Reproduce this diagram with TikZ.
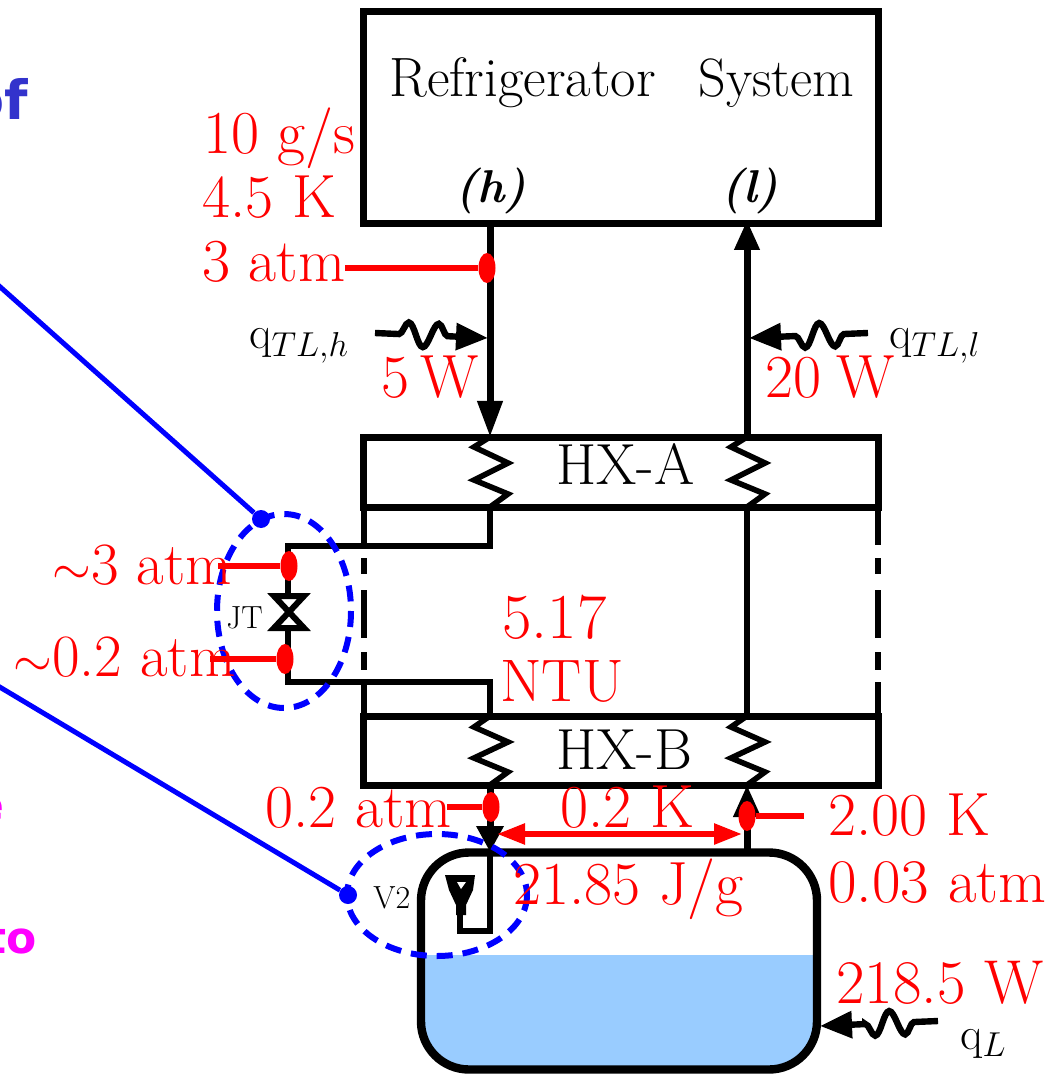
\documentclass[tikz,border=0pt]{standalone}
\usepackage{amsmath,amssymb}
\usepackage{fontspec}
\usepackage{xcolor}
\usetikzlibrary{arrows.meta,decorations.pathmorphing,shapes.geometric}
\newfontfamily\slidefont{DejaVu Sans}
\definecolor{waterblue}{HTML}{99CCFF}
\definecolor{slideblue}{HTML}{3333CC}
\definecolor{slidepink}{HTML}{FF00FF}
\newcommand{\redsize}{\fontsize{30.5}{32}\selectfont}
\newcommand{\blksize}{\fontsize{27.7}{29}\selectfont}
\begin{document}
\begin{tikzpicture}[x=0.5pt,y=-0.5pt,
  box/.style={draw=black,line width=3.5pt,inner sep=0pt,minimum width=257.5pt},
  pipe/.style={draw=black,line width=3.5pt},
  thinpipe/.style={draw=black,line width=2.7pt},
  coil/.style={draw=black,line width=2.8pt,line join=miter},
  redtxt/.style={text=red,anchor=base west,inner sep=0pt,font=\redsize},
  blktxt/.style={text=black,anchor=base west,inner sep=0pt,font=\blksize},
  redline/.style={draw=red,line width=2.8pt},
  reddot/.style={fill=red,ellipse,inner sep=0pt,minimum width=8.5pt,minimum height=15pt},
  bluedot/.style={fill=blue,circle,inner sep=0pt,minimum size=9pt},
  blueline/.style={draw=blue,line width=2.5pt},
  blueloop/.style={draw=blue,line width=3pt,dash pattern=on 8pt off 5pt},
  qarrow/.style={draw=black,line width=3.2pt,-{Triangle[length=16pt,width=13pt]},
    decorate,decoration={snake,segment length=15pt,amplitude=6pt,pre length=12pt,post length=17pt}}]
\useasboundingbox (0,0) rectangle (1050,1074);
% water and tank
\fill[waterblue] (421,955) -- (817,955) [rounded corners=24pt] -- (817,1069) -- (421,1069) [sharp corners] -- cycle;
\node[draw=black,line width=4.2pt,rounded corners=24pt,inner sep=0pt,minimum width=198pt,minimum height=108.5pt] (tank) at (619,961) {};
% boxes
\node[box,minimum height=106pt] (fridge) at (621,118) {};
\node[box,minimum height=35pt] (hxa) at (621,472) {};
\node[box,minimum height=34.5pt] (hxb) at (621,750.5) {};
% points on the pipes
\coordinate (ha) at (490,224);
\coordinate (hb) at (490,437);
\coordinate (hc) at (490,507);
\coordinate (hd) at (490,546);
\coordinate (he) at (288,546);
\coordinate (hf) at (288,682);
\coordinate (hg) at (490,682);
\coordinate (hi) at (490,716);
\coordinate (hj) at (490,785);
\coordinate (hk) at (490,852);
\coordinate (hl) at (490,931);
\coordinate (hm) at (460,931);
\coordinate (hn) at (460,905);
\coordinate (la) at (747,220);
\coordinate (lb) at (747,437);
\coordinate (lc) at (747,507);
\coordinate (ld) at (747,716);
\coordinate (le) at (747,785);
\coordinate (lf) at (747,852);
\draw[pipe,-{Triangle[length=18pt,width=12pt]}] (ha) -- (hb);
\draw[pipe,-{Triangle[length=15pt,width=12pt]}] (lb) -- (la);
\draw[pipe,-{Triangle[length=16pt,width=13pt]}] (lf) -- (le);
\draw[pipe,-{Triangle[length=13pt,width=13pt]}] (hj) -- (hk);
\draw[thinpipe] (hc) -- (hd) -- (he) -- (hf) -- (hg) -- (hi);
\draw[thinpipe] (lc) -- (ld);
\draw[thinpipe] (hk) -- (hl) -- (hm) -- (hn);
% side walls between the exchangers
\draw[thinpipe] (364,507) -- (364,545);
\draw[thinpipe] (364,558) -- (364,574);
\draw[thinpipe] (364,590) -- (364,638);
\draw[thinpipe] (364,652) -- (364,670);
\draw[thinpipe] (364,682) -- (364,716);
\draw[thinpipe] (878,507) -- (878,545);
\draw[thinpipe] (878,558) -- (878,574);
\draw[thinpipe] (878,590) -- (878,638);
\draw[thinpipe] (878,652) -- (878,670);
\draw[thinpipe] (878,682) -- (878,716);
% coils
\draw[coil] (490,437) -- (474,447) -- (508,463) -- (474,480) -- (508,494) -- (490,507);
\draw[coil] (747,437) -- (731,447) -- (765,463) -- (731,480) -- (765,494) -- (747,507);
\draw[coil] (490,716) -- (474,727) -- (508,742) -- (474,758) -- (508,772) -- (490,785);
\draw[coil] (747,716) -- (731,727) -- (765,742) -- (731,758) -- (765,772) -- (747,785);
% JT valve
\draw[black,line width=3pt,fill=white,line join=miter] (274,596) -- (304,596) -- (274,628) -- (304,628) -- cycle;
% v2 valve
\fill[black] (445,875) -- (475,875) -- (473,890) -- (466,905) -- (466,915) -- (456,915) -- (456,905) -- (449,890) -- cycle;
\fill[white] (457,882) -- (466,882) -- (461,889) -- cycle;
% heat leaks
\coordinate (qhs) at (375,333);
\coordinate (qhe) at (488,338);
\coordinate (qls) at (868,333);
\coordinate (qle) at (749,338);
\coordinate (qts) at (938,1021);
\coordinate (qte) at (820,1026);
\draw[qarrow] (qhs) -- (qhe);
\draw[qarrow] (qls) -- (qle);
\draw[qarrow] (qts) -- (qte);
% blue pointers
\coordinate (bpa) at (-2,285);
\coordinate (bpb) at (-2,686);
\node[bluedot] (bda) at (261,519) {};
\node[bluedot] (bdb) at (348,895) {};
\draw[blueline] (bpa) -- (bda);
\draw[blueline] (bpb) -- (bdb);
\draw[blueloop] (284,611) ellipse [x radius=67,y radius=97];
\draw[blueloop] (437,895) ellipse [x radius=90,y radius=61];
% black labels
\node[blktxt] (lblref) at (389,97) {Refrigerator};
\node[blktxt,font=\fontsize{27}{29}\selectfont] (lblsys) at (698,97) {System};
\node[blktxt,font=\fontsize{23}{25}\selectfont\bfseries\itshape] (lblh) at (455,203) {(h)};
\node[blktxt,font=\fontsize{23}{25}\selectfont\bfseries\itshape] (lbll) at (721,203) {(l)};
\node[blktxt,font=\fontsize{29}{31}\selectfont] (lblhxa) at (556,484) {HX-A};
\node[blktxt,font=\fontsize{29}{31}\selectfont] (lblhxb) at (556,769) {HX-B};
\node[blktxt,font=\fontsize{16}{18}\selectfont] (lbljt) at (226,628) {JT};
\node[blktxt,font=\fontsize{16}{18}\selectfont] (lblv) at (373,908) {V2};
\node[blktxt,font=\fontsize{23}{25}\selectfont] (lblqh) at (249,349) {$\mathrm{q}_{TL,h}$};
\node[blktxt,font=\fontsize{23}{25}\selectfont] (lblql) at (889,349) {$\mathrm{q}_{TL,l}$};
\node[blktxt,font=\fontsize{23}{25}\selectfont] (lblqt) at (960,1049) {$\mathrm{q}_{L}$};
% red taps
\node[reddot] (rda) at (487,268) {};
\node[reddot] (rdb) at (289,566) {};
\node[reddot] (rdc) at (285,659) {};
\node[reddot] (rdd) at (491,807) {};
\node[reddot] (rde) at (747,816) {};
\coordinate (rla) at (345,268);
\coordinate (rlb) at (218,566);
\coordinate (rlc) at (210,659);
\coordinate (rld) at (447,807);
\coordinate (rle) at (804,816);
\coordinate (rsa) at (497,834);
\coordinate (rsb) at (742,834);
\draw[redline] (rla) -- (rda);
\draw[redline] (rlb) -- (rdb);
\draw[redline] (rlc) -- (rdc);
\draw[redline] (rld) -- (rdd);
\draw[redline] (rde) -- (rle);
\draw[redline,{Triangle[length=14pt,width=10pt]}-{Triangle[length=14pt,width=10pt]}] (rsa) -- (rsb);
% red labels
\node[redtxt] (tflow) at (203,154) {10 g/s};
\node[redtxt] (ttemp) at (202,218) {4.5 K};
\node[redtxt] (tpres) at (202,282) {3 atm};
\node[redtxt] (tqh) at (381,398) {5\hspace{.18em}W};
\node[redtxt] (tql) at (765,398) {20\hspace{.25em}W};
\node[redtxt,font=\fontsize{30}{32}\selectfont] (tjta) at (52,584) {$\sim$3 atm};
\node[redtxt,font=\fontsize{30}{32}\selectfont] (tjtb) at (13,676) {$\sim$0.2 atm};
\node[redtxt,font=\fontsize{32}{34}\selectfont] (tntua) at (502,638) {5.17};
\node[redtxt,font=\fontsize{30}{32}\selectfont] (tntub) at (500,701) {NTU};
\node[redtxt] (tpb) at (265,827) {0.2 atm};
\node[redtxt] (tdt) at (560,827) {0.2 K};
\node[redtxt] (tj) at (513,904) {21.85 J/g};
\node[redtxt] (tk) at (828,835) {2.00 K};
\node[redtxt,font=\fontsize{31}{33}\selectfont] (tpl) at (828,902) {0.03 atm};
\node[redtxt,font=\fontsize{31}{33}\selectfont] (tq) at (836,1003) {218.5 W};
% cut off text at the left edge
\node[text=slideblue,anchor=base east,inner sep=0pt,font=\slidefont\bfseries\fontsize{27}{29}\selectfont] (cuta) at (28,120) {of};
\node[text=slidepink,anchor=base east,inner sep=0pt,font=\slidefont\bfseries\fontsize{22}{24}\selectfont] (cutb) at (5,820) {e};
\node[text=slidepink,anchor=base east,inner sep=0pt,font=\slidefont\bfseries\fontsize{22}{24}\selectfont] (cutc) at (37,953) {to};
\end{tikzpicture}
\end{document}
